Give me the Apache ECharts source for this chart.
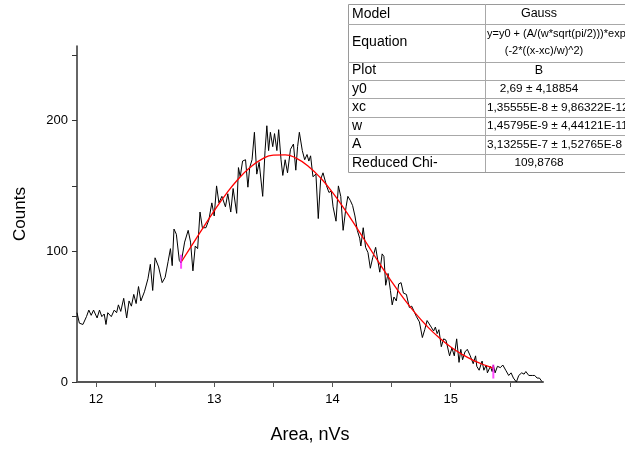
<!DOCTYPE html>
<html>
<head>
<meta charset="utf-8">
<script src="https://cdn.jsdelivr.net/npm/echarts@6/dist/echarts.min.js"></script>
<style>html,body{margin:0;padding:0;background:#fff;}#c{width:625px;height:449px;}</style>
</head>
<body>
<div id="c"></div>
<script>
// Measured histogram (Area, nVs vs Counts)
const areaX = [11.84,11.86,11.89,11.92,11.94,11.96,11.98,12.01,12.03,12.05,12.07,12.085,12.10,12.13,12.155,12.175,12.19,12.21,12.235,12.26,12.28,12.30,12.32,12.34,12.36,12.38,12.41,12.44,12.46,12.48,12.50,12.53,12.56,12.585,12.61,12.63,12.645,12.66,12.68,12.705,12.72,12.75,12.78,12.80,12.82,12.84,12.86,12.88,12.90,12.93,12.955,12.98,13.0,13.02,13.04,13.065,13.08,13.095,13.115,13.14,13.16,13.19,13.205,13.22,13.24,13.265,13.285,13.30,13.32,13.34,13.36,13.38,13.41,13.43,13.445,13.46,13.475,13.495,13.51,13.53,13.545,13.565,13.58,13.60,13.62,13.645,13.67,13.69,13.705,13.72,13.745,13.765,13.785,13.80,13.815,13.835,13.86,13.88,13.90,13.92,13.95,13.97,13.99,14.005,14.03,14.05,14.07,14.09,14.115,14.13,14.15,14.17,14.19,14.21,14.23,14.24,14.26,14.28,14.30,14.32,14.34,14.365,14.385,14.40,14.42,14.435,14.45,14.47,14.49,14.505,14.52,14.54,14.56,14.58,14.60,14.625,14.65,14.67,14.69,14.71,14.735,14.76,14.78,14.80,14.815,14.835,14.855,14.87,14.885,14.90,14.92,14.94,14.96,14.99,15.01,15.03,15.05,15.07,15.085,15.10,15.12,15.14,15.165,15.19,15.21,15.22,15.24,15.265,15.28,15.30,15.31,15.335,15.35,15.36,15.375,15.395,15.42,15.44,15.465,15.49,15.51,15.53,15.555,15.575,15.60,15.62,15.635,15.66,15.69,15.71,15.73,15.75,15.77];
const counts = [53,45,44,50,55,51,55,49,55,50,52,44,53,50,55,53,59,54,64,49,62,58,67,60,73,62,69,79,90,70,95,88,76,80,92,102,89,117,113,93,91,107,116,107,85,104,102,130,118,118,124,137,127,150,137,142,141,134,144,130,148,129,164,157,169,170,149,164,170,191,159,168,142,177,196,177,191,180,190,177,193,170,158,170,160,178,182,162,180,191,177,170,174,169,173,157,159,125,155,160,150,145,146,134,123,150,142,116,134,142,139,135,127,116,110,104,118,103,99,87,95,103,92,84,98,96,74,83,70,59,65,62,75,76,68,67,57,58,54,50,46,34,40,47,48,42,39,42,37,40,27,33,32,20,26,20,33,15,25,17,23,25,20,14,20,12,9,16,9,13,7,12,8,13,7,12,11,13,9,5,7,3,0,5,7,6,8,5,5,5,3,3,0.5];

// Gauss fit curve
const fitX = [12.72,12.8,12.9,13.0,13.1,13.2,13.3,13.4,13.5,13.6,13.7,13.8,13.9,14.0,14.1,14.2,14.3,14.4,14.5,14.6,14.7,14.8,14.9,15.0,15.1,15.2,15.3,15.36];
const fitY = [91.6,102.9,117.1,130.9,143.7,154.9,163.9,170.3,173.6,173.8,170.8,164.7,156.0,145.1,132.4,118.7,104.5,90.3,76.8,64.1,52.7,42.6,34.0,26.8,20.9,16.2,12.5,10.6];

// Fit range markers
const markX = [12.72, 15.36];
const markY = [92, 8];

// Axis ticks
const xTicks = [12,12.5,13,13.5,14,14.5,15,15.5];
const xLabels = [12,13,14,15];
const yTicks = [0,50,100,150,200,250];
const yLabels = [0,100,200];

// Fit result table
const tableLabels = ["Model","Equation","Plot","y0","xc","w","A","Reduced Chi-"];
const tableValues = [["Gauss"],["y=y0 + (A/(w*sqrt(pi/2)))*exp","(-2*((x-xc)/w)^2)"],["B"],["2,69 ± 4,18854"],["1,35555E-8 ± 9,86322E-12"],["1,45795E-9 ± 4,44121E-11"],["3,13255E-7 ± 1,52765E-8"],["109,8768"]];

const FONT = "Liberation Sans, Arial, sans-serif";
const chart = echarts.init(document.getElementById('c'));

// table graphic
const rowB = [4, 23.5, 61.5, 79.5, 98, 116.5, 135, 153.5, 172];
const tX = 348, tDiv = 485, valC = 539;
const g = [];
g.push({type:'rect', shape:{x:tX+0.5, y:rowB[0]+0.5, width:320, height:rowB[8]-rowB[0]}, style:{fill:'#fff', stroke:'#9a9a9a', lineWidth:1}, z:10});
for (let i = 1; i < 8; i++) {
  g.push({type:'line', shape:{x1:tX, y1:Math.round(rowB[i])+0.5, x2:640, y2:Math.round(rowB[i])+0.5}, style:{stroke:'#a8a8a8', lineWidth:1}, z:11});
}
g.push({type:'line', shape:{x1:tDiv+0.5, y1:rowB[0], x2:tDiv+0.5, y2:rowB[8]}, style:{stroke:'#a8a8a8', lineWidth:1}, z:11});
for (let i = 0; i < 8; i++) {
  const cy = (rowB[i] + rowB[i+1]) / 2;
  g.push({type:'text', x:tX+4, y:cy, style:{text:tableLabels[i], font:'14px '+FONT, fill:'#000', textVerticalAlign:'middle', textAlign:'left'}, z:12});
  const vals = tableValues[i];
  const font = '11.8px ' + FONT;
  if (vals.length === 1) {
    const wide = vals[0].length > 16;
    g.push({type:'text', x: wide ? tDiv+2 : valC, y:cy, style:{text:vals[0], font: (vals[0].length < 6 ? '12.5px ' + FONT : font), fill:'#000', textVerticalAlign:'middle', textAlign: wide ? 'left' : 'center'}, z:12});
  } else {
    g.push({type:'text', x:tDiv+2, y:cy-8.5, style:{text:vals[0], font:'11px '+FONT, fill:'#000', textVerticalAlign:'middle', textAlign:'left'}, z:12});
    g.push({type:'text', x:544, y:cy+8.5, style:{text:vals[1], font:'11px '+FONT, fill:'#000', textVerticalAlign:'middle', textAlign:'center'}, z:12});
  }
}

chart.setOption({
  animation: false,
  backgroundColor: '#fff',
  grid: {left: 77, right: 82, top: 46, bottom: 60, containLabel: false},
  xAxis: {
    type: 'value', min: 11.84, max: 15.78,
    name: 'Area, nVs', nameLocation: 'middle', nameGap: 44,
    nameTextStyle: {fontFamily: FONT, fontSize: 18, color: '#000'},
    axisLine: {show: true, onZero: false, lineStyle: {color: '#555', width: 2}},
    axisTick: {show: true, inside: false, length: 5, customValues: xTicks, lineStyle: {color: '#555', width: 1}},
    axisLabel: {customValues: xLabels, margin: 11, fontFamily: FONT, fontSize: 13, color: '#000'},
    splitLine: {show: false}
  },
  yAxis: {
    type: 'value', min: 0, max: 257,
    name: 'Counts', nameLocation: 'middle', nameGap: 48,
    nameTextStyle: {fontFamily: FONT, fontSize: 17, color: '#000'},
    axisLine: {show: true, onZero: false, lineStyle: {color: '#333', width: 1.5}},
    axisTick: {show: true, inside: false, length: 5, customValues: yTicks, lineStyle: {color: '#333', width: 1}},
    axisLabel: {customValues: yLabels, margin: 9, fontFamily: FONT, fontSize: 13, color: '#000'},
    splitLine: {show: false}
  },
  series: [
    {type: 'line', data: areaX.map((x, i) => [x, counts[i]]), showSymbol: false, lineStyle: {color: '#000', width: 1}, z: 2},
    {type: 'line', data: fitX.map((x, i) => [x, fitY[i]]), smooth: true, showSymbol: false, lineStyle: {color: '#ff0000', width: 1.3}, z: 3},
    {type: 'scatter', data: markX.map((x, i) => [x, markY[i]]), symbol: 'rect', symbolSize: [2, 14], itemStyle: {color: '#ff22ff'}, z: 4}
  ],
  graphic: g
});
</script>
</body>
</html>
